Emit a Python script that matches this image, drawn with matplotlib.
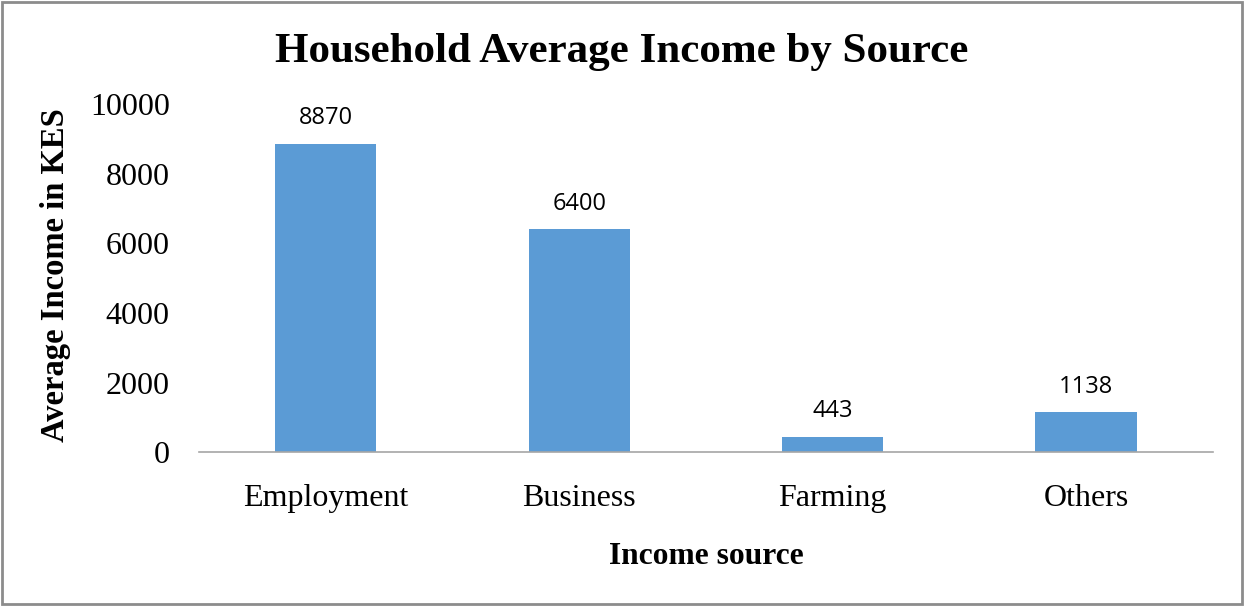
import matplotlib
matplotlib.use("Agg")
import matplotlib.pyplot as plt
from matplotlib.patches import Rectangle

categories = ["Employment", "Business", "Farming", "Others"]
values = [8870, 6400, 443, 1138]
yticks = [0, 2000, 4000, 6000, 8000, 10000]

serif = ["Liberation Serif", "DejaVu Serif"]
sans = ["Open Sans", "DejaVu Sans"]

fig = plt.figure(figsize=(12.44, 6.06), dpi=100)
ax = fig.add_axes([0.16, 0.254, 0.815, 0.574])

x = list(range(len(categories)))
bars = ax.bar(x, values, width=0.4, color="#5B9BD5", zorder=2)
ax.set_xlim(-0.5, len(categories) - 0.5)
ax.set_ylim(0, 10000)
ax.set_yticks(yticks)
ax.set_yticklabels([str(t) for t in yticks], family=serif, fontsize=23)
ax.set_xticks(x)
ax.set_xticklabels(categories, family=serif, fontsize=23)
ax.tick_params(axis="both", length=0)
ax.tick_params(axis="y", pad=21)
ax.tick_params(axis="x", pad=23)
for s in ["top", "right", "left"]:
    ax.spines[s].set_visible(False)
ax.spines["bottom"].set_color("#A6A6A6")
ax.spines["bottom"].set_linewidth(1.2)

for b, v in zip(bars, values):
    ax.annotate(str(v), (b.get_x() + b.get_width() / 2, v), xytext=(0, 10),
                textcoords="offset points", ha="center", va="bottom",
                family=sans, fontsize=17)

fig.text(0.5, 0.915, "Household Average Income by Source", ha="center", va="center",
         family=serif, fontsize=31, fontweight="bold")
fig.text(0.045, 0.546, "Average Income in KES", ha="center", va="center", rotation=90,
         family=serif, fontsize=23.5, fontweight="bold")
fig.text(0.5675, 0.081, "Income source", ha="center", va="center",
         family=serif, fontsize=22.7, fontweight="bold")

fig.patches.append(Rectangle((0.002, 0.003), 0.996, 0.994, transform=fig.transFigure,
                             fill=False, edgecolor="#8C8C8C", linewidth=2))

fig.savefig("out.png", dpi=100)
